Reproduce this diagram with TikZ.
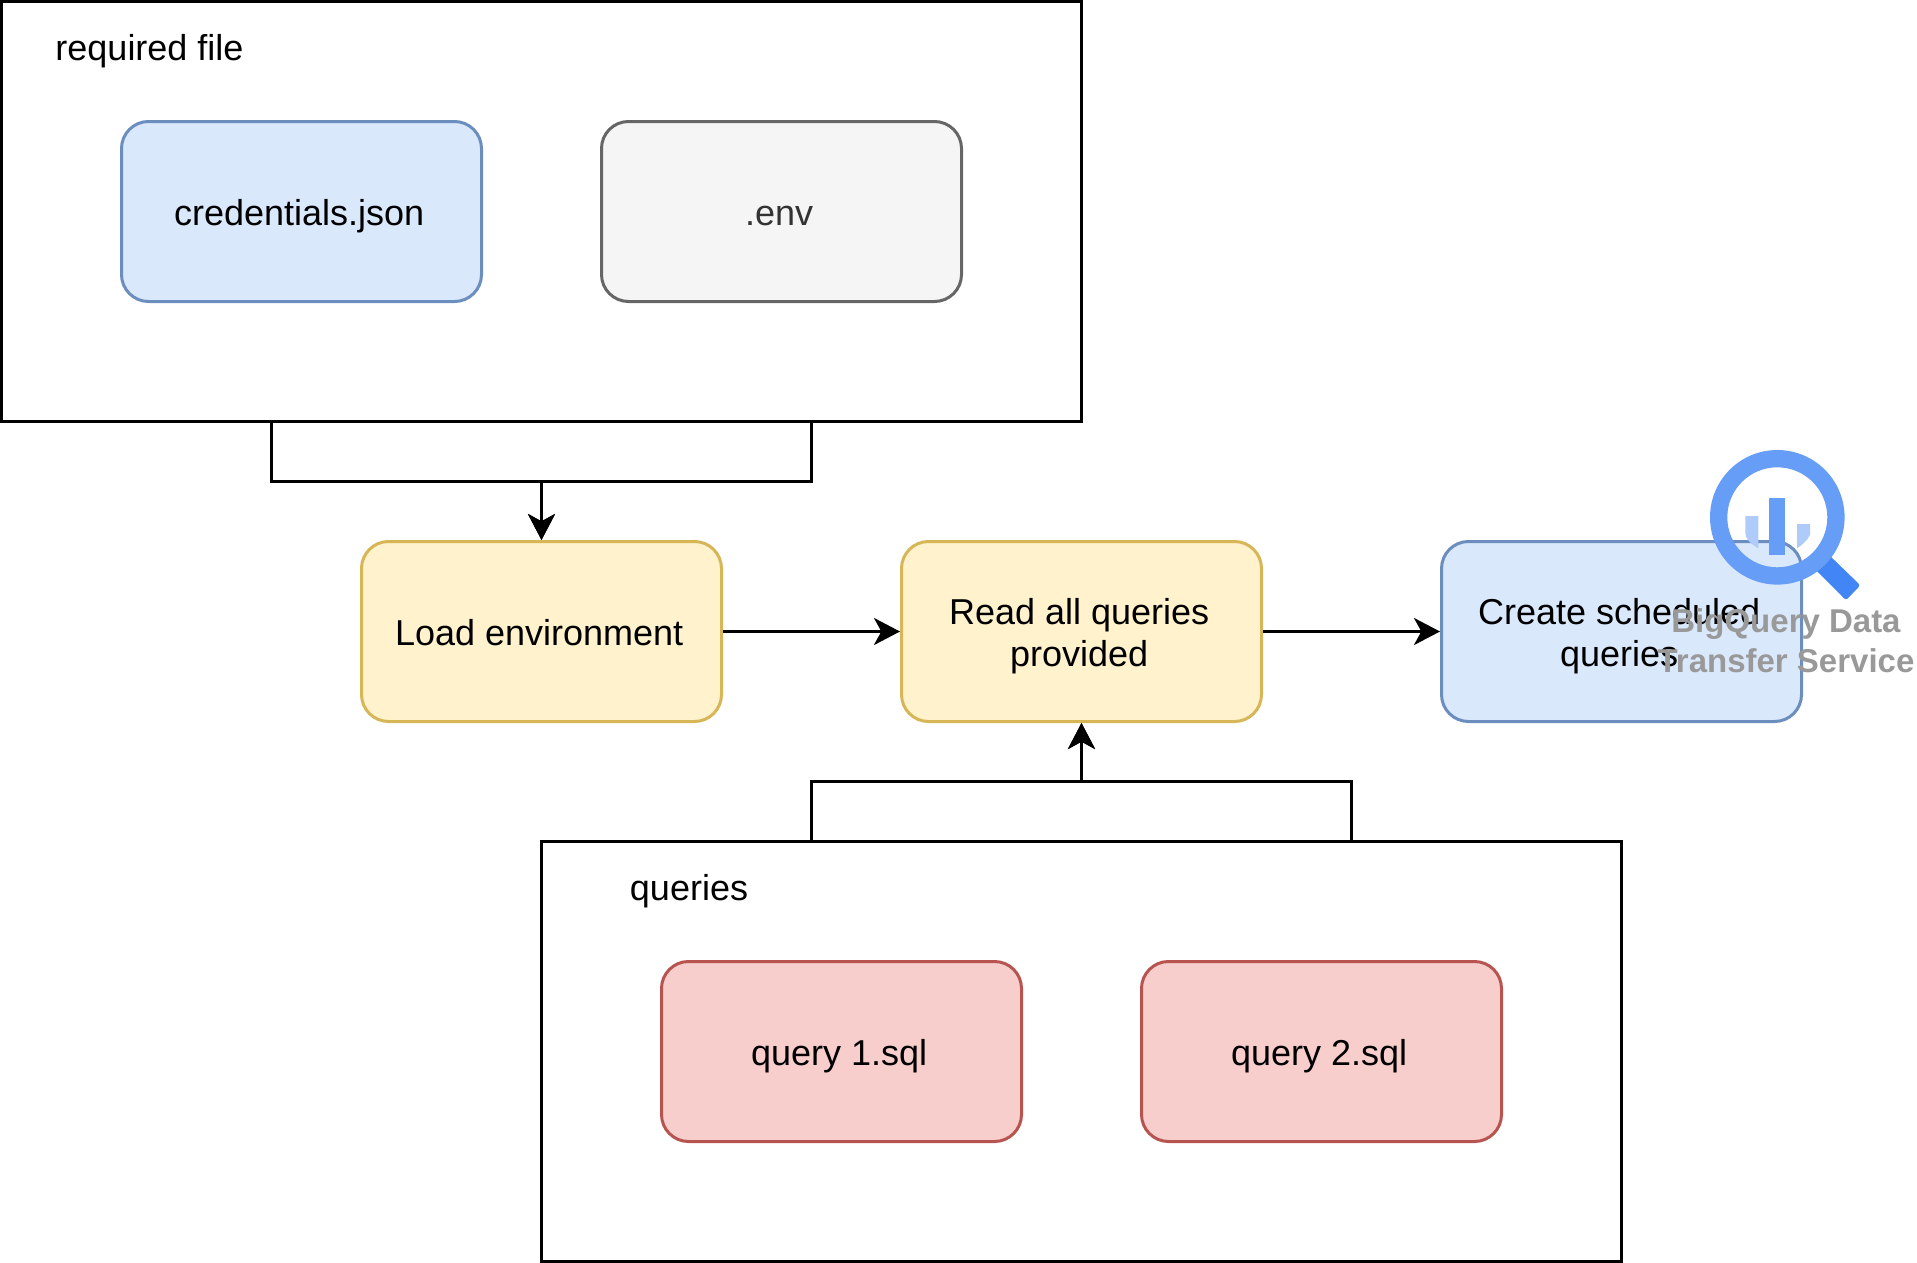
\documentclass[tikz,border=0pt]{standalone}
\usepackage{fontspec}
\setmainfont{Liberation Sans}
\usetikzlibrary{arrows.meta}
\definecolor{bluefill}{HTML}{DAE8FC}
\definecolor{blueline}{HTML}{6C8EBF}
\definecolor{grayfill}{HTML}{F5F5F5}
\definecolor{grayline}{HTML}{666666}
\definecolor{yellowfill}{HTML}{FFF2CC}
\definecolor{yellowline}{HTML}{D6B656}
\definecolor{redfill}{HTML}{F8CECC}
\definecolor{redline}{HTML}{B85450}
\definecolor{ringblue}{HTML}{669DF6}
\definecolor{handleblue}{HTML}{4285F4}
\definecolor{barblue}{HTML}{AECBFA}
\definecolor{svcgray}{HTML}{999999}
\newcommand{\pad}{\kern3.6pt}
\tikzset{
  x=0.75pt, y=-0.75pt,
  container/.style={draw=black, line width=2.25pt, rectangle, inner sep=0pt,
    minimum width=810pt, minimum height=315pt},
  card/.style={rectangle, rounded corners=20.25pt, line width=2.25pt, inner sep=0pt,
    minimum width=270pt, minimum height=135pt, align=center,
    font=\fontsize{27}{31.5}\selectfont, text height=22.8pt, text depth=1.8pt},
  twoline/.style={text height=55pt, text depth=1.8pt},
  bluecard/.style={card, draw=blueline, fill=bluefill},
  graycard/.style={card, draw=grayline, fill=grayfill, text=black!80},
  yellowcard/.style={card, draw=yellowline, fill=yellowfill},
  redcard/.style={card, draw=redline, fill=redfill},
  caption/.style={anchor=base west, inner sep=0pt, font=\fontsize{27}{31.5}\selectfont},
  conn/.style={draw=black, line width=2.25pt, line join=miter,
    -{Stealth[length=19.5pt, width=20.25pt, inset=5.5pt]}},
  svc/.style={anchor=base, inner sep=0pt, align=center, text=svcgray,
    font=\fontsize{24.75}{30}\selectfont\bfseries},
}
\begin{document}
\begin{tikzpicture}
\useasboundingbox (0,0) rectangle (1917,1263);
% containers
\node[container] (req) at (541.5,211.5) {};
\node[container] (qrs) at (1081.5,1051.5) {};
\node[caption] (reqlabel) at (55.2,60.5) {required file};
\node[caption] (qrslabel) at (629.7,900.5) {queries};
% cards
\node[bluecard] (cred) at (301.5,211.5) {credentials.json\pad};
\node[graycard] (env) at (781.5,211.5) {.env\pad};
\node[yellowcard] (load) at (541.5,631.5) {Load environment\pad};
\node[yellowcard,twoline] (read) at (1081.5,631.5) {Read all queries\pad\\provided\pad};
\node[bluecard,twoline] (sched) at (1621.5,631.5) {Create scheduled\pad\\queries\pad};
\node[redcard] (q1) at (841.5,1051.5) {query 1.sql\pad};
\node[redcard] (q2) at (1321.5,1051.5) {query 2.sql\pad};
% connectors
\coordinate (r1) at (271.5,421.5);
\coordinate (r2) at (811.5,421.5);
\coordinate (rj) at (541.5,481.5);
\coordinate (s1) at (811.5,841.5);
\coordinate (s2) at (1351.5,841.5);
\coordinate (sj) at (1081.5,781.5);
\draw[conn] (r1) -- (r1 |- rj) -- (rj) -- (load.north);
\draw[conn] (r2) -- (r2 |- rj) -- (rj) -- (load.north);
\draw[conn] (s1) -- (s1 |- sj) -- (sj) -- (read.south);
\draw[conn] (s2) -- (s2 |- sj) -- (sj) -- (read.south);
\draw[conn] (load.east) -- (read.west);
\draw[conn] (read.east) -- (sched.west);
% BigQuery icon
\fill[handleblue, rounded corners=2pt] (1812.7,566.7) -- (1826.7,552.7) -- (1860.3,585.3) -- (1846,600.3) -- cycle;
\fill[ringblue, even odd rule] (1777.3,517.3) circle[radius=67.3] (1777.3,517.3) circle[radius=50];
\fill[ringblue] (1769,498) rectangle (1785,554.7);
\fill[barblue] (1745.3,516) -- (1758.3,516) -- (1758.3,548.3) .. controls (1751,544) and (1745.3,539) .. (1745.3,533) -- cycle;
\fill[barblue] (1797,524) -- (1810,524) -- (1810,535) .. controls (1807,541) and (1802,545) .. (1797,548.3) -- cycle;
\node[svc] (svclabel) at (1786,672.7) {BigQuery Data\\Transfer Service};
\end{tikzpicture}
\end{document}
